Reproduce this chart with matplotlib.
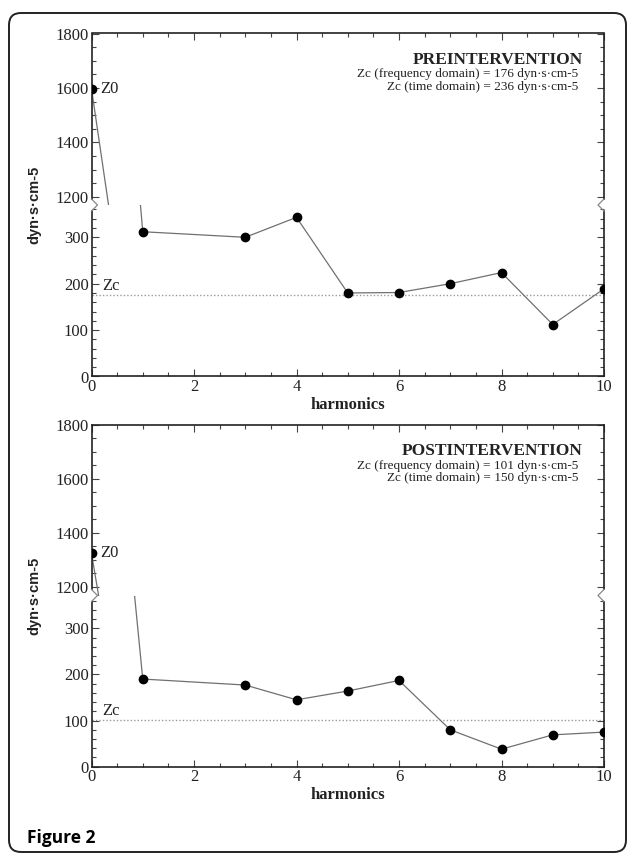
import matplotlib.pyplot as plt
from matplotlib.patches import FancyBboxPatch
from matplotlib.lines import Line2D
from matplotlib.ticker import MultipleLocator

# valores (dyn·s·cm-5)
harmonics = [0, 1, 3, 4, 5, 6, 7, 8, 9, 10]
pre_impedance = [1597, 312, 300, 343, 180, 181, 200, 224, 112, 189]
post_impedance = [1324, 190, 177, 145, 164, 187, 80, 38, 69, 75]
pre_zc = 176
post_zc = 101
pre_text = ["PREINTERVENTION",
            "Zc (frequency domain) = 176 dyn·s·cm-5",
            "Zc (time domain) = 236 dyn·s·cm-5"]
post_text = ["POSTINTERVENTION",
             "Zc (frequency domain) = 101 dyn·s·cm-5",
             "Zc (time domain) = 150 dyn·s·cm-5"]

W, H = 629, 855
SERIF = "Liberation Serif"

fig = plt.figure(figsize=(W / 100, H / 100), dpi=100)


def px_box(left, top, right, bottom):
    return [left / W, 1 - bottom / H, (right - left) / W, (bottom - top) / H]


def style_axis(ax):
    ax.tick_params(which="both", direction="in", top=True, right=True,
                   color="#444", width=0.8, labelsize=12, pad=2)
    ax.tick_params(which="major", length=5)
    ax.tick_params(which="minor", length=3)
    for lab in ax.get_xticklabels() + ax.get_yticklabels():
        lab.set_family(SERIF)
        lab.set_color("#222")
    for s in ax.spines.values():
        s.set_linewidth(1.2)
        s.set_color("#222")


def panel(top_px, break_px, bottom_px, upper_lim, lower_lim, values, zc, texts):
    left, right = 91.5, 604
    ax_up = fig.add_axes(px_box(left, top_px, right, break_px))
    ax_lo = fig.add_axes(px_box(left, break_px, right, bottom_px))

    for ax in (ax_up, ax_lo):
        ax.plot(harmonics, values, color="#707070", lw=0.9, zorder=2)
        ax.plot(harmonics, values, "o", color="black", ms=6, zorder=3)
        ax.set_xlim(0, 10)
        ax.xaxis.set_major_locator(MultipleLocator(2))
        ax.xaxis.set_minor_locator(MultipleLocator(0.5))

    ax_up.set_ylim(*upper_lim)
    ax_up.set_yticks([1200, 1400, 1600, 1800])
    ax_up.yaxis.set_minor_locator(MultipleLocator(50))
    ax_up.spines["bottom"].set_visible(False)

    ax_lo.set_ylim(*lower_lim)
    ax_lo.set_yticks([0, 100, 200, 300])
    ax_lo.yaxis.set_minor_locator(MultipleLocator(20))
    ax_lo.spines["top"].set_visible(False)

    style_axis(ax_up)
    style_axis(ax_lo)
    ax_up.tick_params(which="both", bottom=False, labelbottom=False)
    ax_lo.tick_params(which="both", top=False)

    # espacio en los ejes verticales para la rotura
    gap_up = 6 / ((break_px - top_px) / (upper_lim[1] - upper_lim[0]))
    gap_lo = 6 / ((bottom_px - break_px) / (lower_lim[1] - lower_lim[0]))
    for side in ("left", "right"):
        ax_up.spines[side].set_bounds(upper_lim[0] + gap_up, upper_lim[1])
        ax_lo.spines[side].set_bounds(lower_lim[0], lower_lim[1] - gap_lo)

    yb = 1 - break_px / H
    for x0, d in ((left, 6), (right, -6)):
        fig.add_artist(Line2D([x0 / W, (x0 + d) / W, x0 / W],
                              [yb + 6 / H, yb, yb - 6 / H],
                              color="#888", lw=0.9))

    ax_lo.set_xlabel("harmonics", family=SERIF, fontweight="bold",
                     fontsize=12, labelpad=1, color="#222")

    # linea Zc
    ax_lo.axhline(zc, color="#999", lw=1, ls=(0, (1, 1.5)), zorder=1)
    ax_lo.annotate("Zc", (0, zc), xytext=(8, 6.5), textcoords="offset points",
                   family=SERIF, fontsize=12, va="center", color="#222")

    # etiqueta Z0
    ax_up.annotate("Z0", (0, values[0]), xytext=(6.5, 0),
                   textcoords="offset points", family=SERIF, fontsize=12,
                   va="center", color="#222")

    ax_up.text(0.959, 0.846, texts[0], transform=ax_up.transAxes, ha="right",
               va="center", family=SERIF, fontweight="bold", fontsize=12.5,
               color="#222")
    ax_up.text(0.95, 0.762, texts[1], transform=ax_up.transAxes, ha="right",
               va="center", family=SERIF, fontsize=9.5, color="#222")
    ax_up.text(0.95, 0.69, texts[2], transform=ax_up.transAxes, ha="right",
               va="center", family=SERIF, fontsize=9.5, color="#222")

    fig.text(34 / W, yb, "dyn·s·cm-5", rotation=90, ha="center", va="center",
             family="Liberation Sans", fontweight="bold", fontsize=10.5,
             color="#222")


panel(33.5, 205, 376.5, (1169.5, 1800), (0, 369.6), pre_impedance, pre_zc, pre_text)
panel(425, 595.5, 766.7, (1167.3, 1800), (0, 371.1), post_impedance, post_zc, post_text)

# marco redondeado
frame = FancyBboxPatch((0.09, 0.03), 6.17, 8.39,
                       boxstyle="round,pad=0,rounding_size=0.12",
                       transform=fig.dpi_scale_trans, fill=False,
                       edgecolor="#222", lw=1.4)
fig.add_artist(frame)

fig.text(27 / W, 1 - 838 / H, "Figure 2", family=["Open Sans", "DejaVu Sans"],
         fontweight="bold", fontsize=12.5, va="center", ha="left")

fig.savefig("out.png", dpi=100)
